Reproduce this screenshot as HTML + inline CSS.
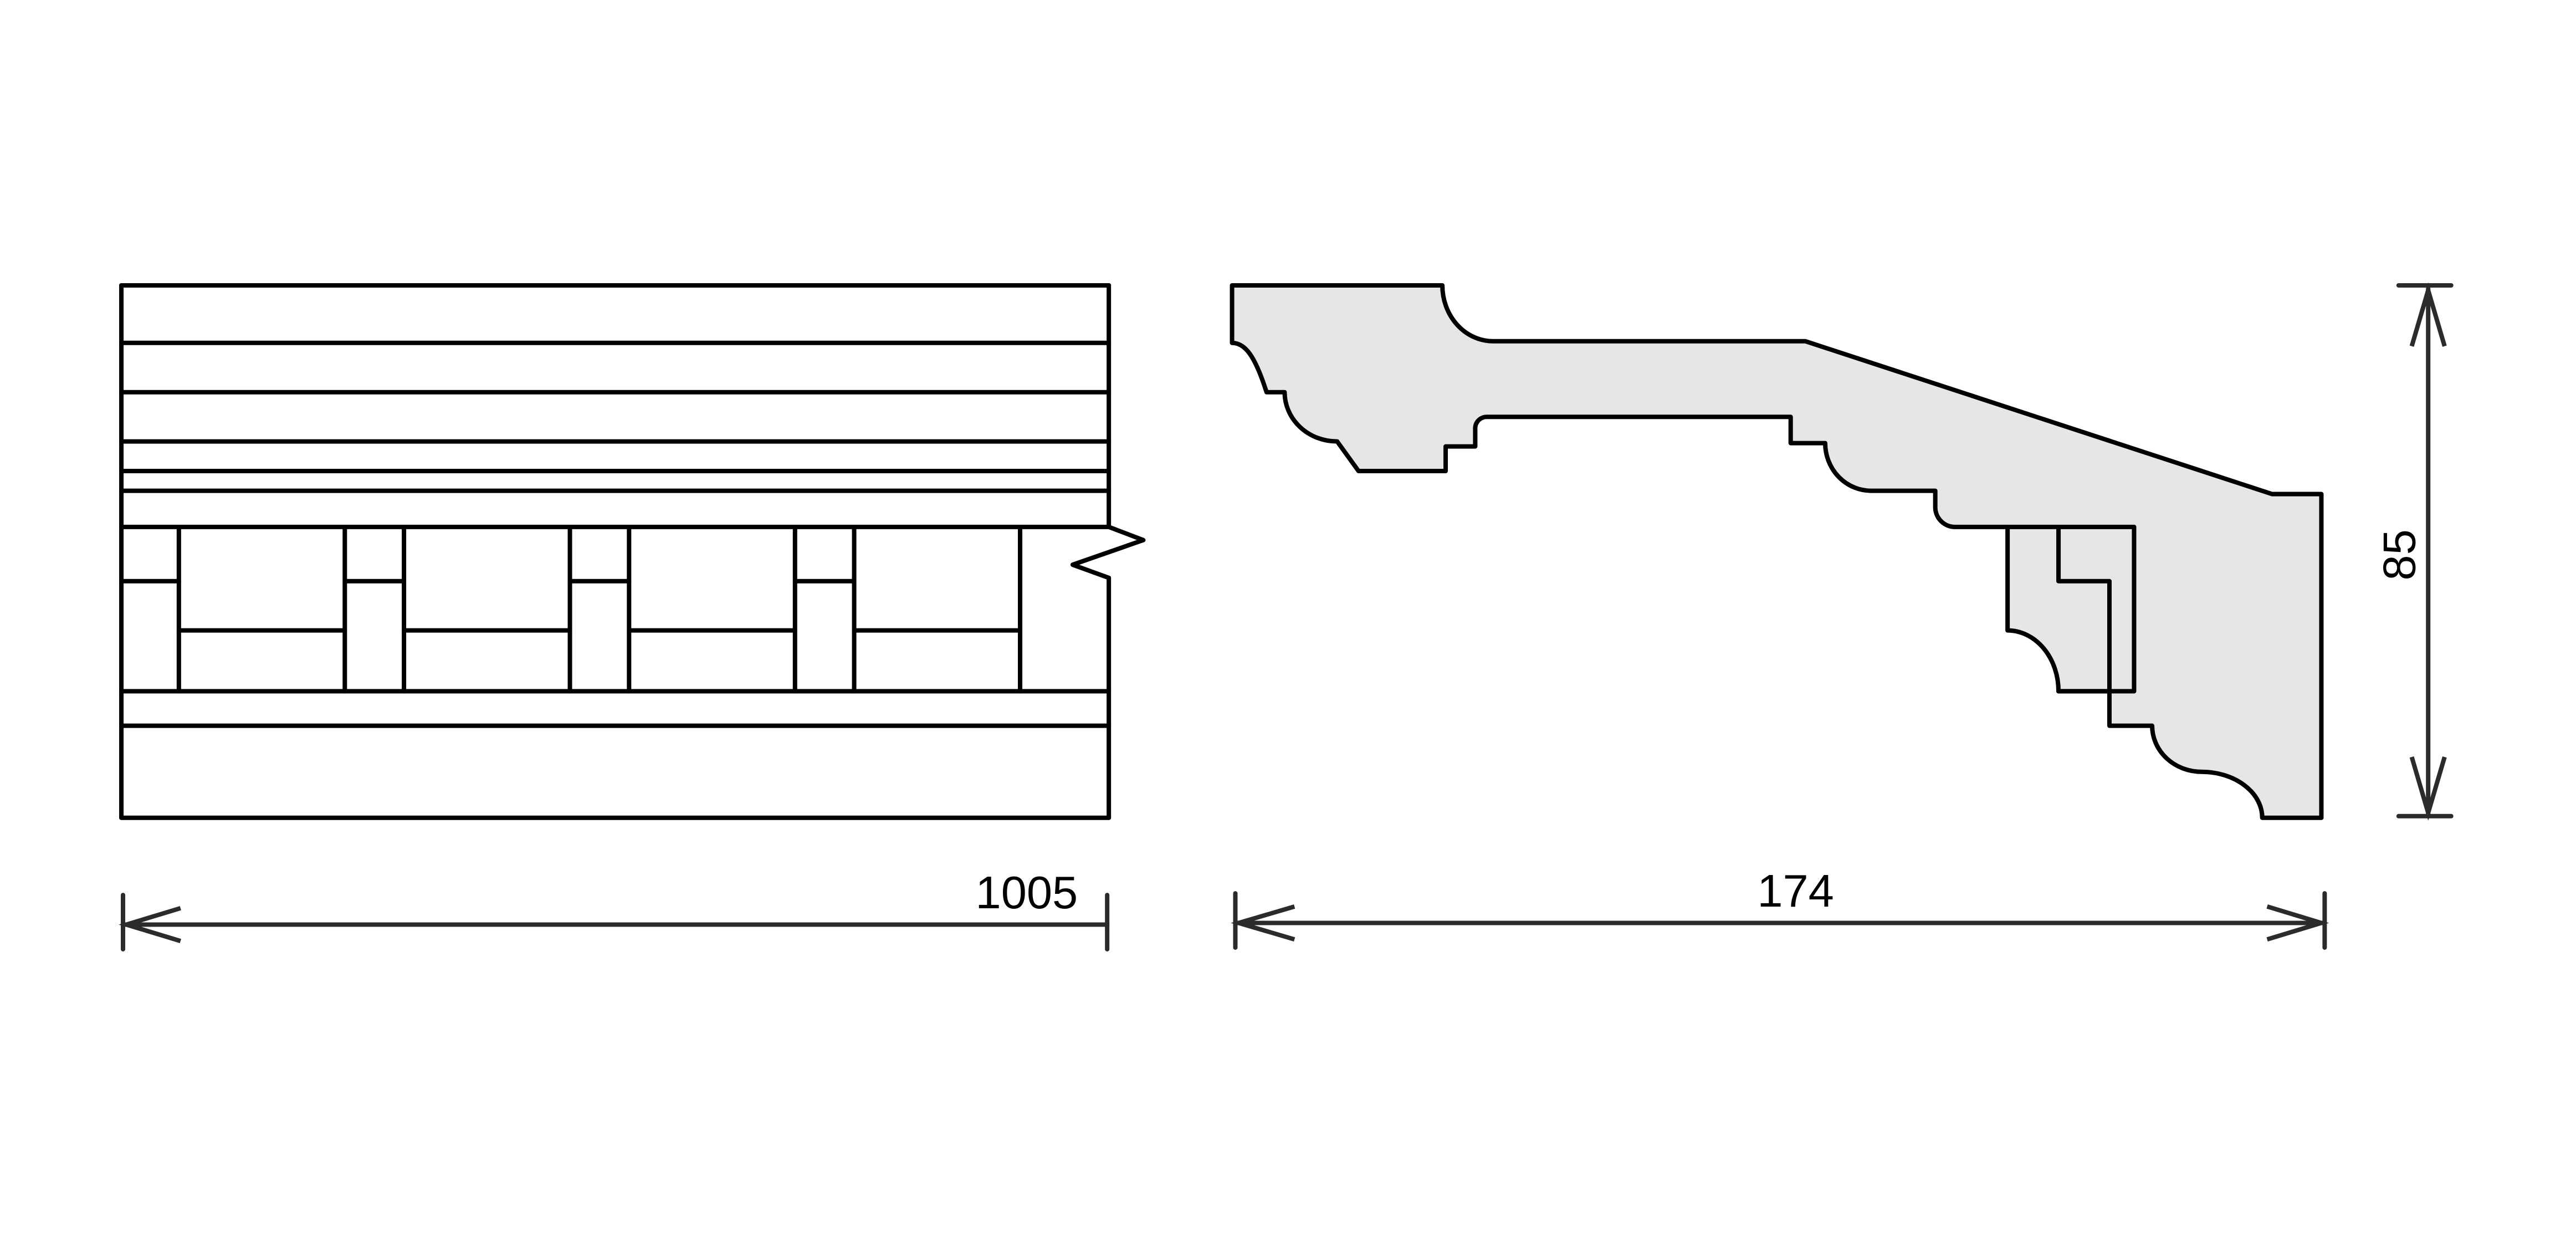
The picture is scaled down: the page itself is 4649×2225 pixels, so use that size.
<!DOCTYPE html>
<html><head><meta charset="utf-8"><style>
html,body{margin:0;padding:0;background:#fff;}
svg{display:block;}
</style></head><body>
<svg width="4649" height="2225" viewBox="0 0 1560 746.6" preserveAspectRatio="none" xmlns="http://www.w3.org/2000/svg">
<rect x="0" y="0" width="1560" height="746.6" fill="#fff"/>
<g transform="translate(73.5,172.8) scale(0.995) translate(-74,-173)">
<g stroke="#000" stroke-width="2.7" fill="none" stroke-linecap="round" stroke-linejoin="round">
<!-- left elevation -->
<line x1="74" y1="173" x2="74" y2="497"/>
<line x1="675" y1="173" x2="675" y2="320"/>
<polyline points="675,320 696,328 653,343 675,351 675,497"/>
<line x1="74" y1="173" x2="675" y2="173"/>
<line x1="74" y1="208" x2="675" y2="208"/>
<line x1="74" y1="238" x2="675" y2="238"/>
<line x1="74" y1="268" x2="675" y2="268"/>
<line x1="74" y1="286" x2="675" y2="286"/>
<line x1="74" y1="298" x2="675" y2="298"/>
<line x1="74" y1="320" x2="675" y2="320"/>
<line x1="74" y1="420" x2="675" y2="420"/>
<line x1="74" y1="441" x2="675" y2="441"/>
<line x1="74" y1="497" x2="675" y2="497"/>
<line x1="109" y1="320" x2="109" y2="420"/>
<line x1="210" y1="320" x2="210" y2="420"/>
<line x1="246" y1="320" x2="246" y2="420"/>
<line x1="347" y1="320" x2="347" y2="420"/>
<line x1="383" y1="320" x2="383" y2="420"/>
<line x1="484" y1="320" x2="484" y2="420"/>
<line x1="520" y1="320" x2="520" y2="420"/>
<line x1="621" y1="320" x2="621" y2="420"/>
<line x1="74" y1="353" x2="109" y2="353"/>
<line x1="210" y1="353" x2="246" y2="353"/>
<line x1="347" y1="353" x2="383" y2="353"/>
<line x1="484" y1="353" x2="520" y2="353"/>
<line x1="109" y1="383" x2="210" y2="383"/>
<line x1="246" y1="383" x2="347" y2="383"/>
<line x1="383" y1="383" x2="484" y2="383"/>
<line x1="520" y1="383" x2="621" y2="383"/>
<!-- profile -->
<path fill="#e6e6e6" d="M750,173 L878,173 A31,34 0 0 0 909,207 L1099,207 L1383,300 L1413,300 L1413,497 L1377,497 A37,28 0 0 0 1340,469 A30,28 0 0 1 1310,441 L1284,441 L1284,420 L1253,420 A31,37 0 0 0 1222,383 L1222,320 L1190,320 A12,12 0 0 1 1178,308 L1178,298 L1139,298 A28,29 0 0 1 1111,269 L1090,269 L1090,253 L905,253 A7,7 0 0 0 898,260 L898,271 L880,271 L880,286 L827,286 L814,268 A32,30 0 0 1 782,238 L771,238 C764,216 758,208 750,208 Z"/>
<polyline points="1222,320 1299,320 1299,420 1253,420"/>
<polyline points="1253,320 1253,353 1284,353 1284,420"/>
</g>
<g stroke="#2b2b2b" stroke-width="2.7" fill="none" stroke-linecap="round">
<line x1="75" y1="562" x2="674" y2="562"/>
<line x1="75" y1="544" x2="75" y2="577"/>
<line x1="674" y1="544" x2="674" y2="577"/>
<polyline stroke-linecap="butt" points="110,552 77,562 110,572"/>
<line x1="752" y1="561" x2="1415" y2="561"/>
<line x1="752" y1="543" x2="752" y2="576"/>
<line x1="1415" y1="543" x2="1415" y2="576"/>
<polyline stroke-linecap="butt" points="788,551 754,561 788,571"/>
<polyline stroke-linecap="butt" points="1380,551 1413,561 1380,571"/>
<line x1="1478" y1="175" x2="1478" y2="495"/>
<line x1="1460" y1="173" x2="1492" y2="173"/>
<line x1="1460" y1="496" x2="1492" y2="496"/>
<polyline stroke-linecap="butt" points="1468,210 1478,176 1488,210"/>
<polyline stroke-linecap="butt" points="1468,460 1478,494 1488,460"/>
</g>
<g font-family="Liberation Sans, sans-serif" font-size="28" fill="#000">
<text x="625" y="552" text-anchor="middle">1005</text>
<text x="1093" y="551" text-anchor="middle">174</text>
<text x="0" y="0" text-anchor="middle" transform="translate(1470,337) rotate(-90)">85</text>
</g>
</g>
</svg>
</body></html>
